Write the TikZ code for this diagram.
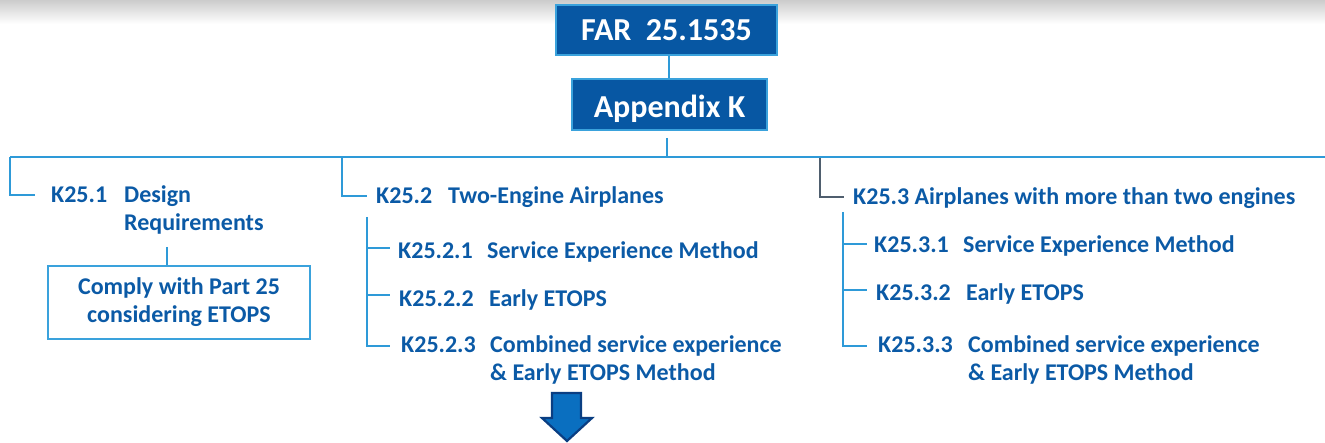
\documentclass[tikz,border=0pt]{standalone}
\usepackage{fontspec}
\setmainfont{Carlito}
\definecolor{txtblue}{HTML}{0B5AA6}
\definecolor{boxblue}{HTML}{0757A3}
\definecolor{edgeblue}{HTML}{3AA2DC}
\definecolor{lineblue}{HTML}{2E9AD8}
\definecolor{darkline}{HTML}{4F5E6E}
\definecolor{arrowfill}{HTML}{0A6FC0}
\definecolor{arrowedge}{HTML}{0A3E82}
\begin{document}
\begin{tikzpicture}[x=1pt,y=-1pt,
  tline/.style={draw=lineblue,line width=1.8pt},
  txt/.style={font=\fontsize{24}{28}\selectfont\bfseries,text=txtblue,anchor=base west,inner sep=0pt},
  titlebox/.style={fill=boxblue,draw=edgeblue,line width=2pt,text=white,
    font=\fontsize{32}{36}\selectfont\bfseries,inner sep=0pt,text depth=0pt},
  outbox/.style={draw=edgeblue,line width=2pt,fill=white,text=txtblue,align=center,
    font=\fontsize{24}{28}\selectfont\bfseries,inner sep=0pt,minimum width=262pt,minimum height=73pt}]
\useasboundingbox (0,0) rectangle (1325,443);
\shade[top color=black!20,bottom color=white] (0,0) rectangle (1325,24);

% top boxes
\node[titlebox,minimum width=221pt,minimum height=50pt,text height=22pt] (far) at (666.5,30) {FAR\ \ 25.1535};
\node[titlebox,minimum width=195pt,minimum height=51pt,text height=26pt] (appk) at (669.5,104.5) {Appendix K};
\draw[tline] (appk.north -| 669,0) -- (far.south -| 669,0);

% bar
\coordinate (hub) at (667,138);
\coordinate (barL) at (10,157);
\coordinate (barM) at (667,157);
\coordinate (barR) at (1325,157);
\draw[tline] (hub) -- (barM);
\draw[tline] (barL) -- (barR);

% K25.1
\node[txt] (k1) at (51,203) {K25.1};
\node[txt] (k1t) at (124,203) {Design};
\node[txt] (k1u) at (124,231) {Requirements};
\coordinate (k1in) at (35,195);
\draw[tline] (barL) |- (k1in);
\node[outbox] (comply) at (179,302.5) {Comply with Part 25\\considering ETOPS};
\coordinate (k1dn) at (167,247);
\draw[tline] (k1dn) -- (k1dn |- comply.north);

% K25.2
\coordinate (b2) at (342,157);
\coordinate (k2in) at (367,196);
\draw[tline] (b2) |- (k2in);
\node[txt] (k2) at (376,204) {K25.2};
\node[txt] (k2t) at (448,204) {Two-Engine Airplanes};
\node[txt] (k21) at (398,259) {K25.2.1};
\node[txt] (k21t) at (487,259) {Service Experience Method};
\node[txt] (k22) at (399,307) {K25.2.2};
\node[txt] (k22t) at (489,307) {Early ETOPS};
\node[txt] (k23) at (401,353) {K25.2.3};
\node[txt] (k23t) at (490,353) {Combined service experience};
\node[txt] (k23u) at (490,381) {\& Early ETOPS Method};
\coordinate (s2top) at (367,217);
\coordinate (t21) at (390,248);
\coordinate (t22) at (390,295);
\coordinate (t23) at (390,346);
\draw[tline] (s2top) |- (t23);
\draw[tline] (s2top |- t21) -- (t21);
\draw[tline] (s2top |- t22) -- (t22);

% K25.3
\coordinate (b3) at (820,158);
\coordinate (k3in) at (844,197);
\draw[draw=darkline,line width=1.8pt] (b3) |- (k3in);
\node[txt] (k3) at (853,205) {K25.3 Airplanes with more than two engines};
\node[txt] (k31) at (874,253) {K25.3.1};
\node[txt] (k31t) at (963,253) {Service Experience Method};
\node[txt] (k32) at (876,301) {K25.3.2};
\node[txt] (k32t) at (966,301) {Early ETOPS};
\node[txt] (k33) at (878,353) {K25.3.3};
\node[txt] (k33t) at (968,353) {Combined service experience};
\node[txt] (k33u) at (968,381) {\& Early ETOPS Method};
\coordinate (s3top) at (843,212);
\coordinate (t31) at (867,244);
\coordinate (t32) at (867,290);
\coordinate (t33) at (867,346);
\draw[tline] (s3top) |- (t33);
\draw[tline] (s3top |- t31) -- (t31);
\draw[tline] (s3top |- t32) -- (t32);

% down arrow
\draw[fill=arrowfill,draw=arrowedge,line width=2.2pt,line join=miter]
  (552,393) -- (581,393) -- (581,418) -- (592,418) -- (567,441) -- (542,418) -- (552,418) -- cycle;
\end{tikzpicture}
\end{document}
